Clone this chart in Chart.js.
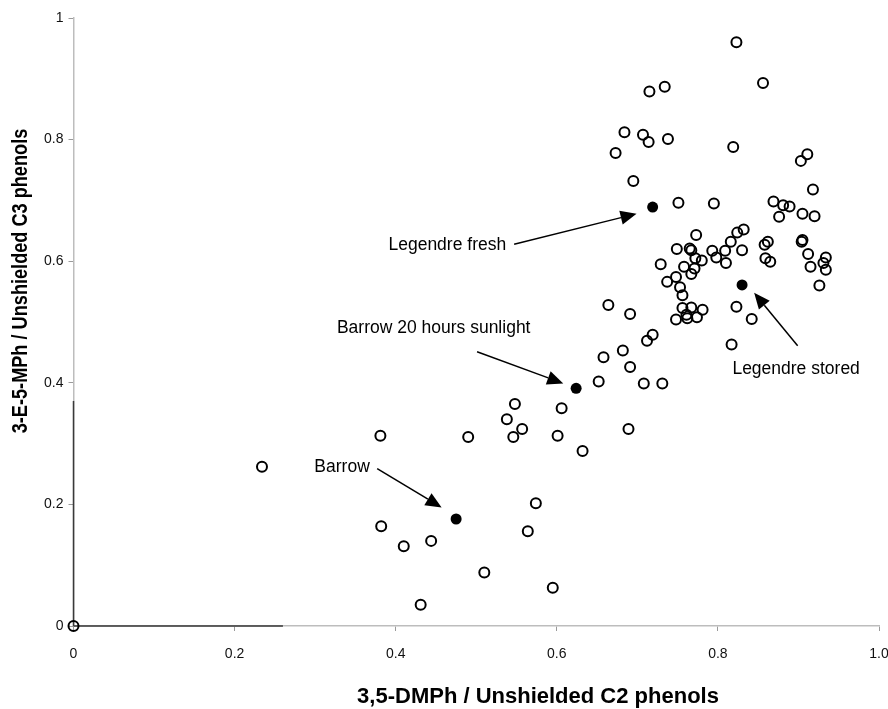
<!DOCTYPE html>
<html>
<head>
<meta charset="utf-8">
<script src="https://cdn.jsdelivr.net/npm/chart.js@4/dist/chart.umd.min.js"></script>
<style>
  html, body { margin: 0; padding: 0; background: #fff; }
  #wrap { position: relative; width: 888px; height: 709px; }
</style>
</head>
<body>
<div id="wrap"><canvas id="chart" width="888" height="709"></canvas></div>
<script>
/* ── Datos: muestras (círculos abiertos) ─────────────────────── */
const openX = [
  0.823, 0.856, 0.715, 0.734, 0.684, 0.707, 0.714, 0.738, 0.673, 0.819,
  0.911, 0.903, 0.695, 0.918, 0.751, 0.795, 0.869, 0.881, 0.889, 0.876,
  0.905, 0.920, 0.773, 0.832, 0.824, 0.816, 0.809, 0.793, 0.798, 0.810,
  0.830, 0.749, 0.765, 0.767, 0.772, 0.780, 0.758, 0.729, 0.771, 0.767,
  0.748, 0.737, 0.753, 0.756, 0.756, 0.767, 0.781, 0.761, 0.774, 0.748,
  0.762, 0.719, 0.712, 0.858, 0.862, 0.859, 0.865, 0.904, 0.905, 0.912,
  0.915, 0.931, 0.934, 0.934, 0.926, 0.823, 0.842, 0.817, 0.664, 0.691,
  0.682, 0.658, 0.691, 0.652, 0.708, 0.731, 0.548, 0.606, 0.538, 0.557,
  0.546, 0.601, 0.689, 0.632, 0.381, 0.490, 0.234, 0.382, 0.410, 0.444,
  0.574, 0.564, 0.510, 0.595, 0.431, 0.000
];
const openY = [
  0.960, 0.893, 0.879, 0.887, 0.812, 0.808, 0.796, 0.801, 0.778, 0.788,
  0.776, 0.765, 0.732, 0.718, 0.696, 0.695, 0.698, 0.692, 0.690, 0.673,
  0.678, 0.674, 0.643, 0.652, 0.647, 0.632, 0.617, 0.617, 0.606, 0.597,
  0.618, 0.620, 0.621, 0.618, 0.605, 0.601, 0.591, 0.595, 0.588, 0.579,
  0.574, 0.566, 0.557, 0.544, 0.523, 0.524, 0.520, 0.512, 0.508, 0.504,
  0.506, 0.479, 0.469, 0.627, 0.632, 0.605, 0.599, 0.632, 0.635, 0.612,
  0.591, 0.597, 0.606, 0.586, 0.560, 0.525, 0.505, 0.463, 0.528, 0.513,
  0.453, 0.442, 0.426, 0.402, 0.399, 0.399, 0.365, 0.358, 0.340, 0.324,
  0.311, 0.313, 0.324, 0.288, 0.313, 0.311, 0.262, 0.164, 0.131, 0.140,
  0.202, 0.156, 0.088, 0.063, 0.035, 0.000
];

/* ── Datos: muestras de referencia (círculos llenos) ─────────── */
const refNames = ['Legendre fresh', 'Legendre stored', 'Barrow 20 hours sunlight', 'Barrow'];
const refX = [0.719, 0.830, 0.624, 0.475];
const refY = [0.689, 0.561, 0.391, 0.176];

/* ── Ejes ────────────────────────────────────────────────────── */
const xTicks = [0, 0.2, 0.4, 0.6, 0.8, 1.0];
const xTickLabels = ['0', '0.2', '0.4', '0.6', '0.8', '1.0'];
const yTicks = [0, 0.2, 0.4, 0.6, 0.8, 1.0];
const yTickLabels = ['0', '0.2', '0.4', '0.6', '0.8', '1'];
const xTitle = '3,5-DMPh / Unshielded C2 phenols';
const yTitle = '3-E-5-MPh / Unshielded C3 phenols';

// Etiquetas con flecha, en unidades de datos: texto (izq, centro) y flecha (desde -> punta)
const CALLOUTS = [
  { text: refNames[0], tx: 0.391, ty: 0.627, ax: 0.547, ay: 0.628, bx: 0.699, by: 0.678 },
  { text: refNames[1], tx: 0.818, ty: 0.423, ax: 0.899, ay: 0.461, bx: 0.845, by: 0.548 },
  { text: refNames[2], tx: 0.327, ty: 0.490, ax: 0.501, ay: 0.451, bx: 0.608, by: 0.399 },
  { text: refNames[3], tx: 0.299, ty: 0.262, ax: 0.377, ay: 0.259, bx: 0.457, by: 0.195 }
];

const toPoints = (xs, ys) => xs.map((x, i) => ({ x, y: ys[i] }));

/* ── Plugin: tramo oscuro de los ejes, títulos y flechas ─────── */
const decorations = {
  id: 'decorations',
  beforeDatasetsDraw(chart) {
    const { ctx, scales: { x, y } } = chart;
    ctx.save();
    ctx.strokeStyle = '#3a3a3a';
    ctx.lineWidth = 1.5;
    ctx.beginPath();
    ctx.moveTo(x.getPixelForValue(0), y.getPixelForValue(0));
    ctx.lineTo(x.getPixelForValue(0.26), y.getPixelForValue(0));
    ctx.moveTo(x.getPixelForValue(0), y.getPixelForValue(0));
    ctx.lineTo(x.getPixelForValue(0), y.getPixelForValue(0.37));
    ctx.stroke();
    ctx.restore();
  },
  afterDraw(chart) {
    const { ctx, scales: { x, y } } = chart;
    ctx.save();
    ctx.fillStyle = '#000';
    ctx.strokeStyle = '#000';

    // títulos de ejes (el del eje Y va más estrecho, tipo "narrow")
    ctx.font = 'bold 22px "Liberation Sans", Arial, sans-serif';
    ctx.textAlign = 'center';
    ctx.textBaseline = 'middle';
    ctx.fillText(xTitle, 538, 697);
    ctx.save();
    ctx.translate(21, 281);
    ctx.rotate(-Math.PI / 2);
    ctx.scale(0.825, 1);
    ctx.fillText(yTitle, 0, 0);
    ctx.restore();

    // anotaciones
    ctx.font = '17.5px "Liberation Sans", Arial, sans-serif';
    ctx.textAlign = 'left';
    ctx.lineWidth = 1.5;
    CALLOUTS.forEach(c => {
      ctx.fillText(c.text, x.getPixelForValue(c.tx), y.getPixelForValue(c.ty));
      const x1 = x.getPixelForValue(c.ax), y1 = y.getPixelForValue(c.ay);
      const x2 = x.getPixelForValue(c.bx), y2 = y.getPixelForValue(c.by);
      const ang = Math.atan2(y2 - y1, x2 - x1);
      const len = 16, half = 7;
      const bx = x2 - len * Math.cos(ang), by = y2 - len * Math.sin(ang);
      ctx.beginPath();
      ctx.moveTo(x1, y1);
      ctx.lineTo(bx, by);
      ctx.stroke();
      ctx.beginPath();
      ctx.moveTo(x2, y2);
      ctx.lineTo(bx + half * Math.sin(ang), by - half * Math.cos(ang));
      ctx.lineTo(bx - half * Math.sin(ang), by + half * Math.cos(ang));
      ctx.closePath();
      ctx.fill();
    });
    ctx.restore();
  }
};

new Chart(document.getElementById('chart'), {
  type: 'scatter',
  data: {
    datasets: [
      {
        label: 'Samples',
        data: toPoints(openX, openY),
        pointStyle: 'circle',
        pointRadius: 5,
        borderWidth: 2,
        borderColor: '#000',
        backgroundColor: 'rgba(0,0,0,0)',
        clip: false
      },
      {
        label: 'Reference',
        data: toPoints(refX, refY),
        pointStyle: 'circle',
        pointRadius: 5.5,
        borderWidth: 0,
        backgroundColor: '#000',
        clip: false
      }
    ]
  },
  options: {
    responsive: false,
    animation: false,
    devicePixelRatio: 1,
    layout: { padding: { top: 18, right: 9, left: 0, bottom: 0 } },
    plugins: {
      legend: { display: false },
      tooltip: { enabled: false }
    },
    scales: {
      x: {
        type: 'linear',
        min: 0,
        max: 1,
        afterBuildTicks: s => { s.ticks = xTicks.map(v => ({ value: v })); },
        afterFit: s => { s.height = 83; s.paddingLeft = 0; s.paddingRight = 0; },
        border: { display: true, color: '#bdbdbd', width: 1.5 },
        grid: { drawOnChartArea: false, drawTicks: true, tickLength: 5, color: '#9a9a9a' },
        ticks: {
          padding: 15,
          color: '#111',
          font: { family: '"Liberation Sans", Arial, sans-serif', size: 14 },
          callback: (v, i) => xTickLabels[i]
        }
      },
      y: {
        type: 'linear',
        min: 0,
        max: 1,
        afterBuildTicks: s => { s.ticks = yTicks.map(v => ({ value: v })); },
        afterFit: s => { s.width = 73.5; s.paddingTop = 0; s.paddingBottom = 0; },
        border: { display: true, color: '#bdbdbd', width: 1.5 },
        grid: { drawOnChartArea: false, drawTicks: true, tickLength: 5, color: '#9a9a9a' },
        ticks: {
          padding: 5,
          color: '#111',
          font: { family: '"Liberation Sans", Arial, sans-serif', size: 14 },
          callback: (v, i) => yTickLabels[i]
        }
      }
    }
  },
  plugins: [decorations]
});
</script>
</body>
</html>
